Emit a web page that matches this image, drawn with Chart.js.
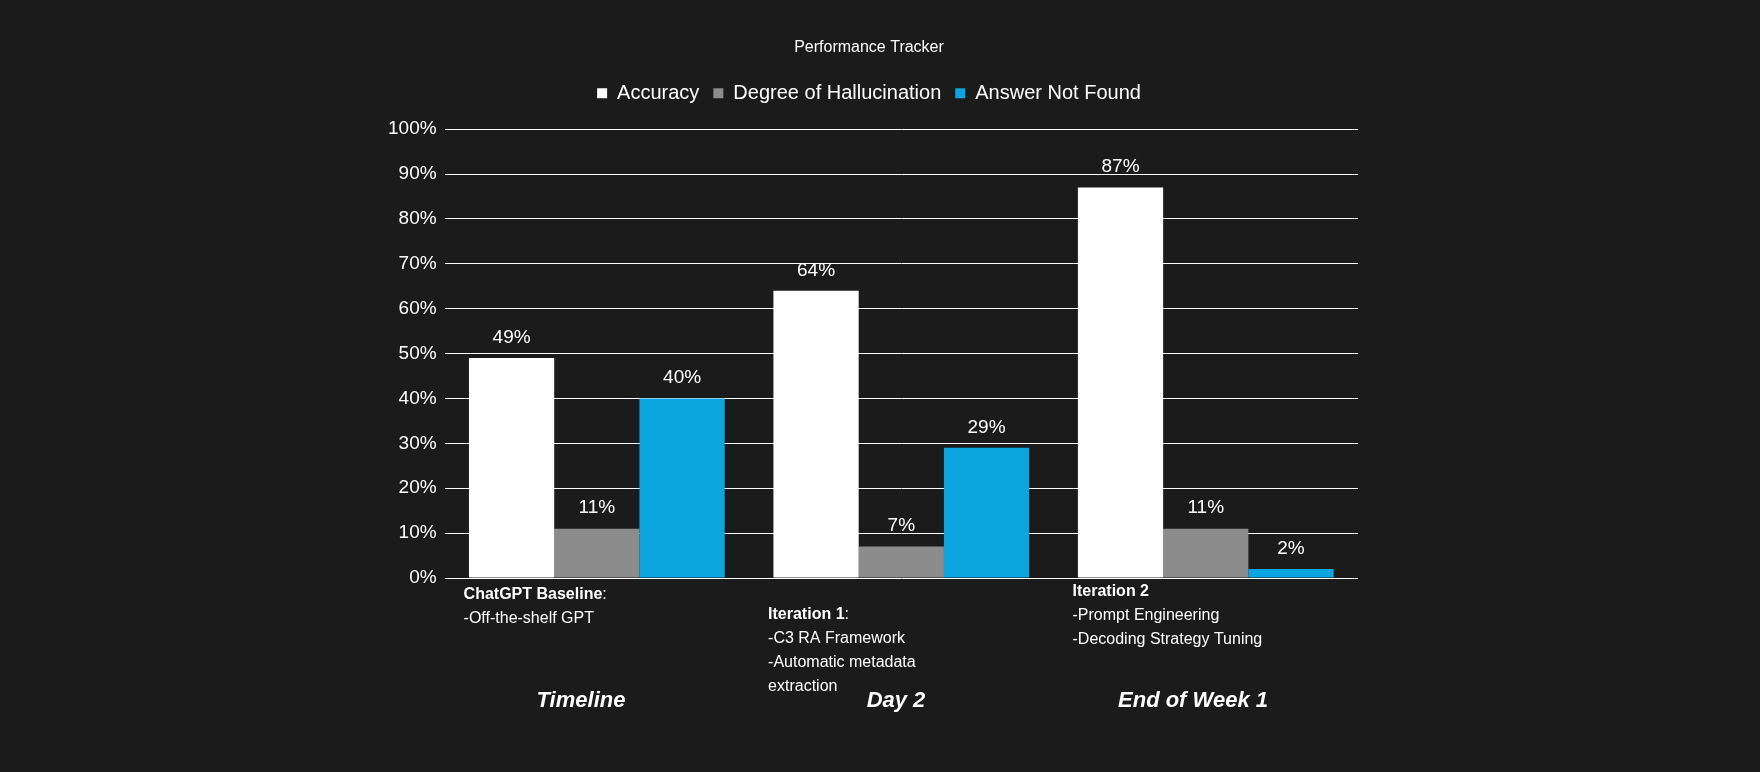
<!DOCTYPE html>
<html><head><meta charset="utf-8">
<script src="https://cdn.jsdelivr.net/npm/chart.js@4"></script>
<style>html,body{margin:0;background:#1b1b1b}canvas{display:block}</style>
</head><body><canvas id="c" width="1760" height="772"></canvas>
<script>
const categories = ["ChatGPT Baseline", "Iteration 1", "Iteration 2"];
const accuracy = [49, 64, 87];
const hallucination = [11, 7, 11];
const notFound = [40, 29, 2];
const yTicks = [0,10,20,30,40,50,60,70,80,90,100];
const catNotes = [
  {head:"ChatGPT Baseline", colon:":", lines:["-Off-the-shelf GPT"], y:595},
  {head:"Iteration 1", colon:":", lines:["-C3 RA Framework","-Automatic metadata","extraction"], y:615},
  {head:"Iteration 2", colon:"", lines:["-Prompt Engineering","-Decoding Strategy Tuning"], y:592}
];
const timeline = ["Timeline", "Day 2", "End of Week 1"];
const F = "'Liberation Sans', Arial, sans-serif";

const legendGap = {
  id:'lgap',
  beforeInit(chart){
    const lg = chart.legend;
    if(lg){ const f = lg.fit; lg.fit = function(){ f.call(this); this.height += 16; }; }
  }
};

const labelPlugin = {
  id:'lbl',
  afterDatasetsDraw(chart){
    const ctx = chart.ctx;
    ctx.save();
    ctx.fillStyle='#fff';
    ctx.font = "19px "+F;
    ctx.textAlign='center'; ctx.textBaseline='bottom';
    chart.data.datasets.forEach((ds,di)=>{
      chart.getDatasetMeta(di).data.forEach((b,i)=>{
        ctx.fillText(ds.data[i]+'%', b.x, b.y-11);
      });
    });
    const x = chart.scales.x;
    const w = (x.right-x.left)/categories.length;
    catNotes.forEach((n,i)=>{
      const lx = x.left + i*w + 19;
      ctx.textAlign='left'; ctx.textBaseline='middle';
      ctx.font = "bold 16px "+F;
      ctx.fillText(n.head, lx, n.y);
      const hw = ctx.measureText(n.head).width;
      ctx.font = "16px "+F;
      ctx.fillText(n.colon, lx+hw, n.y);
      n.lines.forEach((l,j)=>ctx.fillText(l, lx, n.y+24*(j+1)));
    });
    ctx.font = "italic bold 22px "+F;
    ctx.textAlign='center';
    const tx=[581,896,1193];
    timeline.forEach((t,i)=>ctx.fillText(t, tx[i], 701));
    ctx.restore();
  }
};

new Chart(document.getElementById('c'), {
  type:'bar',
  data:{
    labels: categories,
    datasets:[
      {label:'Accuracy', data:accuracy, backgroundColor:'#ffffff'},
      {label:'Degree of Hallucination', data:hallucination, backgroundColor:'#8c8c8c'},
      {label:'Answer Not Found', data:notFound, backgroundColor:'#0ba5e0'}
    ]
  },
  options:{
    responsive:false, animation:false,
    layout:{padding:{left:380,right:402,top:0,bottom:186}},
    datasets:{bar:{categoryPercentage:0.84,barPercentage:1}},
    plugins:{
      title:{display:true,text:'Performance Tracker',color:'#fff',font:{family:F,size:16,weight:'normal'},padding:{top:38,bottom:12}},
      legend:{labels:{color:'#fff',font:{family:F,size:20},boxWidth:10,boxHeight:10,padding:14}},
      tooltip:{enabled:false}
    },
    scales:{
      x:{ticks:{display:false},grid:{display:false},border:{display:false}},
      y:{min:0,max:100,afterBuildTicks:s=>{s.ticks=yTicks.map(v=>({value:v}));},
         ticks:{color:'#fff',font:{family:F,size:19},padding:8,callback:v=>v+'%'},
         grid:{color:'#ffffff',lineWidth:1,drawTicks:false},border:{display:false}}
    }
  },
  plugins:[legendGap, labelPlugin]
});
</script></body></html>
